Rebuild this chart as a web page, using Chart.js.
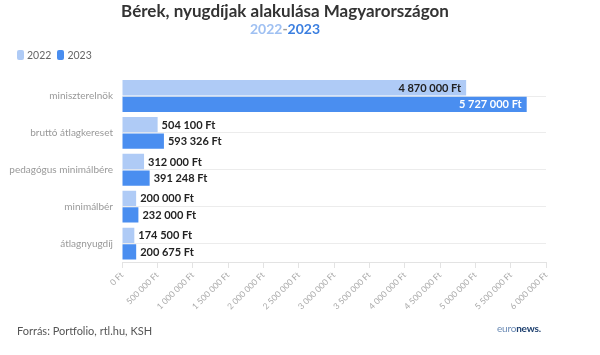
<!DOCTYPE html>
<html><head><meta charset="utf-8">
<script src="https://cdn.jsdelivr.net/npm/chart.js@4"></script>
<style>
html,body{margin:0;padding:0;background:#fff;width:600px;height:355px;overflow:hidden;font-family:Lato,"Open Sans",sans-serif;}
#wrap{position:relative;width:600px;height:355px;}
canvas{position:absolute;left:0;top:0;}
.t{position:absolute;left:0;width:570px;text-align:center;font-weight:bold;}
#title{top:0px;font-size:17px;color:#333;}
#sub{top:20px;font-size:14px;}
#legend{position:absolute;left:17px;top:49px;font-size:10.5px;color:#666;display:flex;gap:6px;}
#legend span.i{display:flex;align-items:center;gap:3px;}
#legend i{display:inline-block;width:7px;height:10px;border-radius:2px;}
#src{position:absolute;left:17px;top:324px;font-size:11px;color:#555;}
#logo{position:absolute;left:497px;top:322px;font-size:10px;color:#1d3f6e;font-weight:bold;letter-spacing:-0.2px;}
#logo b{font-weight:normal;color:#6b8bb5;}
</style></head>
<body><div id="wrap">
<canvas id="c" width="600" height="355"></canvas>
<div id="title" class="t">Bérek, nyugdíjak alakulása Magyarországon</div>
<div id="sub" class="t"><span id="s1"></span><span style="color:#999">-</span><span id="s2"></span></div>
<div id="legend"></div>
<div id="src">Forrás: Portfolio, rtl.hu, KSH</div>
<div id="logo"><b>euro</b>news.</div>
</div>
<script>
const categories = ["miniszterelnök","bruttó átlagkereset","pedagógus minimálbére","minimálbér","átlagnyugdíj"];
const seriesNames = ["2022","2023"];
const values2022 = [4870000,504100,312000,200000,174500];
const values2023 = [5727000,593326,391248,232000,200675];
const colors = ["#afcbf6","#4a8ef0"];

document.getElementById('s1').textContent = seriesNames[0];
document.getElementById('s1').style.color = "#9fc0f2";
document.getElementById('s2').textContent = seriesNames[1];
document.getElementById('s2').style.color = "#3b7fe0";
const lg = document.getElementById('legend');
seriesNames.forEach((n,i)=>{
  const s=document.createElement('span');s.className='i';
  s.innerHTML='<i style="background:'+colors[i]+'"></i>'+n;lg.appendChild(s);
});

function fmt(v){return String(Math.round(v)).replace(/\B(?=(\d{3})+(?!\d))/g,' ')+' Ft';}

const labelPlugin = {
  id:'vlabels',
  afterDatasetsDraw(chart){
    const ctx=chart.ctx;
    ctx.save();
    ctx.font='bold 11px Lato, "Open Sans", sans-serif';
    ctx.textBaseline='middle';
    chart.data.datasets.forEach((ds,di)=>{
      const meta=chart.getDatasetMeta(di);
      meta.data.forEach((bar,i)=>{
        const v=ds.data[i];
        const txt=fmt(v);
        const w=ctx.measureText(txt).width;
        const barLen=bar.x-bar.base;
        if(barLen>w+20){
          ctx.textAlign='right';
          ctx.fillStyle = di===1 ? '#ffffff' : '#222';
          ctx.fillText(txt,bar.x-5,bar.y+0.5);
        } else {
          ctx.textAlign='left';
          ctx.fillStyle='#222';
          ctx.fillText(txt,bar.x+4,bar.y+0.5);
        }
      });
    });
    ctx.restore();
  }
};

new Chart(document.getElementById('c'),{
  type:'bar',
  data:{
    labels:categories,
    datasets:[
      {label:seriesNames[0],data:values2022,backgroundColor:colors[0],categoryPercentage:0.9,barPercentage:0.92},
      {label:seriesNames[1],data:values2023,backgroundColor:colors[1],categoryPercentage:0.9,barPercentage:0.92}
    ]
  },
  options:{
    indexAxis:'y',
    responsive:false,
    animation:false,
    layout:{padding:{top:77.6,right:54,left:0,bottom:0}},
    plugins:{legend:{display:false},tooltip:{enabled:false}},
    scales:{
      x:{
        min:0,max:6000000,
        ticks:{stepSize:500000,minRotation:45,maxRotation:45,color:'#aaa',font:{size:8.5,family:'Lato'},callback:v=>fmt(v),padding:2},
        grid:{drawOnChartArea:false,drawTicks:true,tickLength:6,color:'#e3e3e3'},
        border:{color:'#e3e3e3'},
        afterFit(s){s.height=93;}
      },
      y:{
        ticks:{color:'#999',font:{size:10,family:'Lato'},padding:9},
        grid:{offset:false,drawTicks:false,color:'#ececec'},
        border:{display:false},
        afterFit(s){s.width=122;}
      }
    }
  },
  plugins:[labelPlugin]
});
</script>
</body></html>
